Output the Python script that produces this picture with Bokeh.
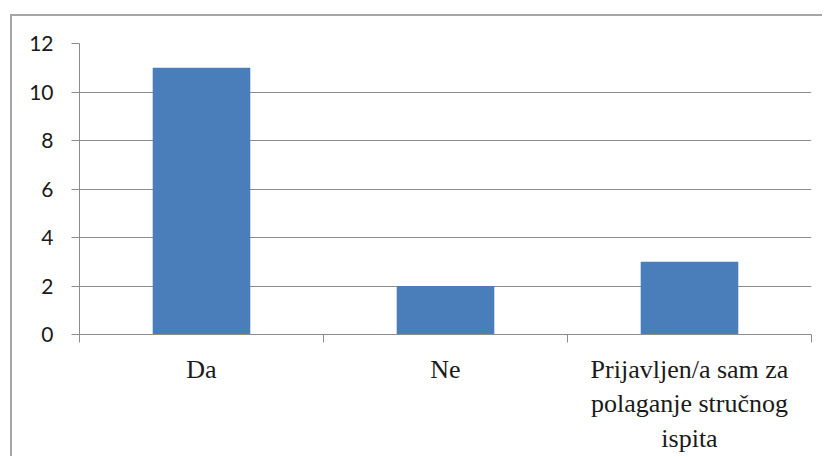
from bokeh.plotting import figure
from bokeh.models import Range1d, FixedTicker
from bokeh.embed import file_html
from bokeh.resources import INLINE

categories = ["Da", "Ne", "Prijavljen/a sam za\npolaganje stručnog\nispita"]
values = [11, 2, 3]
y_ticks = [0, 2, 4, 6, 8, 10, 12]

positions = [i + 0.5 for i in range(len(categories))]
boundaries = list(range(len(categories) + 1))

GRID = "#8C8C8C"
BAR = "#4A7EBB"

p = figure(
    frame_width=732, frame_height=291,
    min_border_left=67, min_border_top=27, min_border_right=11, min_border_bottom=118,
    x_range=Range1d(0, len(categories)), y_range=Range1d(0, 12),
    output_backend="svg", toolbar_location=None,
    styles={"margin-left": "10px", "margin-top": "14px",
            "border-left": "2px solid #A6A6A6", "border-top": "2px solid #A6A6A6"},
)
p.outline_line_color = None
p.background_fill_color = "white"
p.border_fill_color = "white"

p.vbar(x=positions, top=values, width=0.4, fill_color=BAR, line_color=None)

# y axis
yax = p.yaxis[0]
yax.ticker = FixedTicker(ticks=y_ticks, minor_ticks=[])
yax.axis_line_color = GRID
yax.major_tick_line_color = GRID
yax.major_tick_out = 8
yax.major_tick_in = 0
yax.minor_tick_line_color = None
yax.major_label_standoff = 18
yax.major_label_text_font = "Lato"
yax.major_label_text_font_size = "21px"
yax.major_label_text_color = "#1a1a1a"

# x axis
xax = p.xaxis[0]
xax.ticker = FixedTicker(ticks=positions, minor_ticks=boundaries)
xax.major_label_overrides = {pos: lab for pos, lab in zip(positions, categories)}
xax.axis_line_color = GRID
xax.major_tick_line_color = None
xax.major_tick_out = 0
xax.major_tick_in = 0
xax.minor_tick_line_color = GRID
xax.minor_tick_out = 8
xax.minor_tick_in = 0
xax.major_label_standoff = 12
xax.major_label_text_font = "serif"
xax.major_label_text_font_size = "26px"
xax.major_label_text_color = "#1a1a1a"

p.xgrid.grid_line_color = None
p.ygrid.grid_line_color = GRID
p.ygrid.ticker = FixedTicker(ticks=y_ticks)

open("out.html", "w").write(file_html(p, INLINE))
